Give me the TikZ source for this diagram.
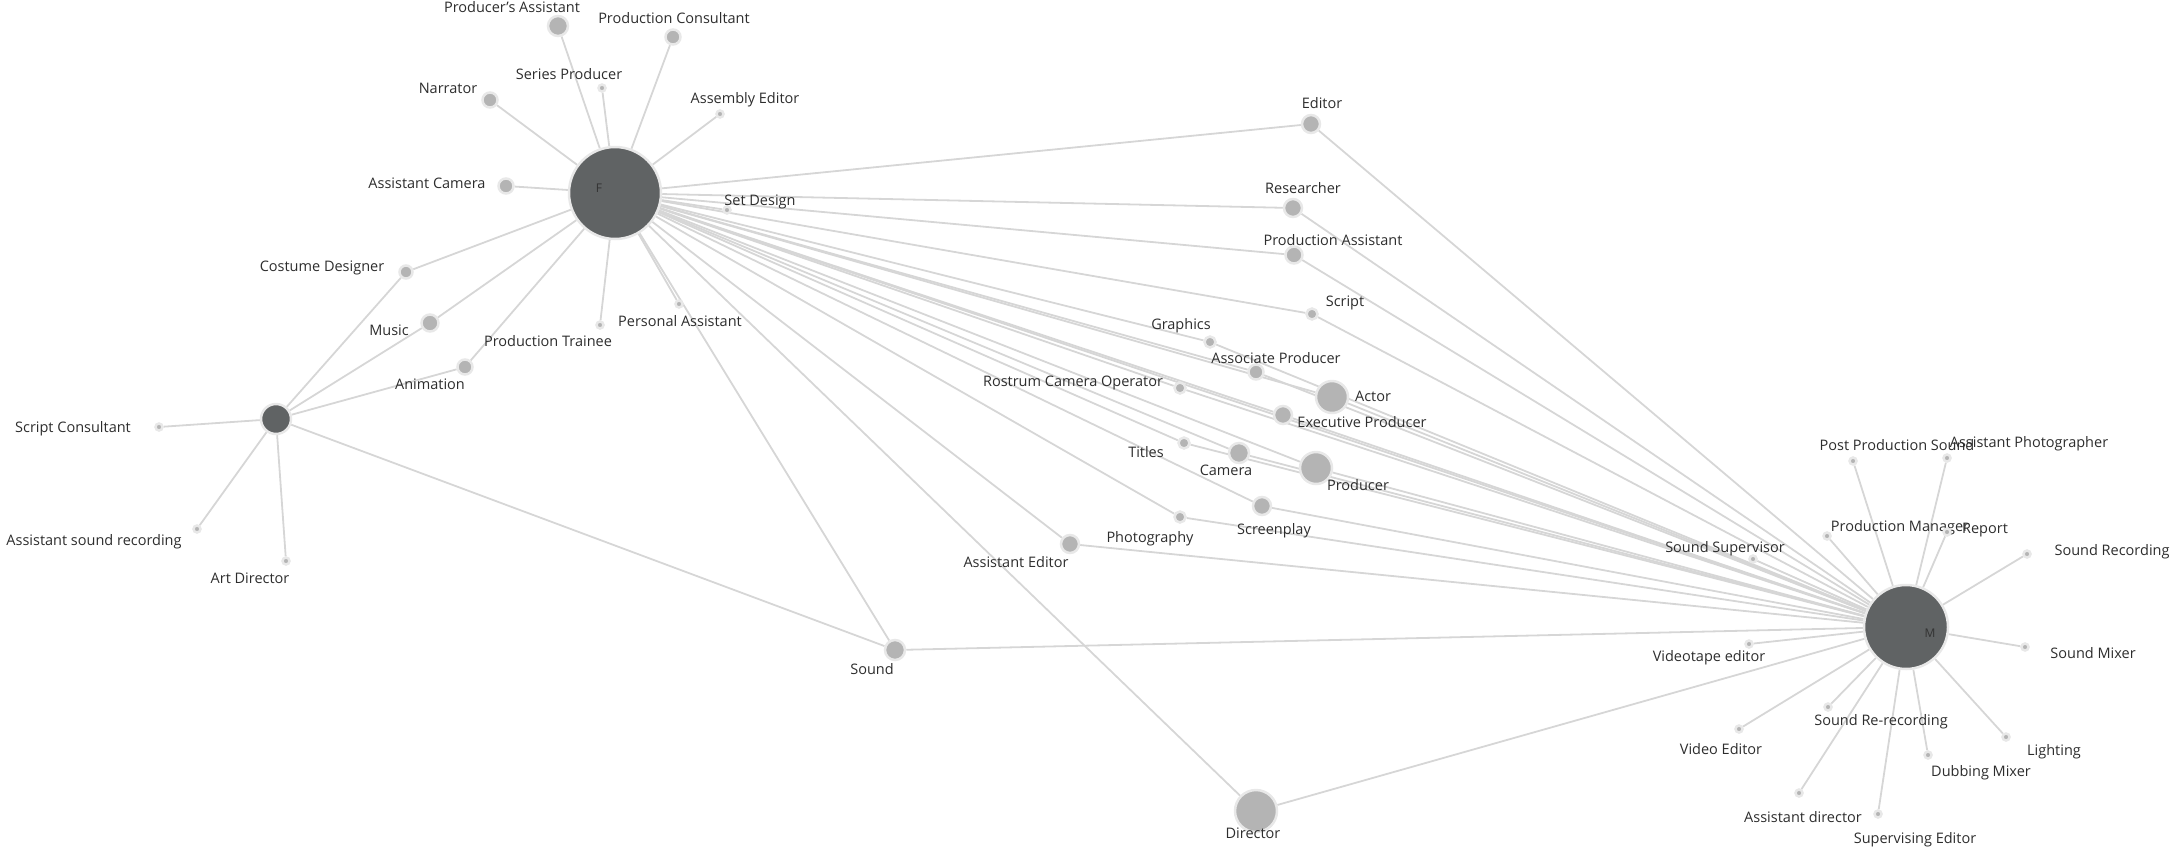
\documentclass[tikz,border=0pt]{standalone}
\usepackage{fontspec}
\setmainfont{Open Sans}
\usepackage{tikz}
\usetikzlibrary{positioning}
\usetikzlibrary{backgrounds}
\definecolor{hubgray}{RGB}{96,99,100}
\definecolor{rolegray}{RGB}{180,180,180}
\definecolor{halogray}{RGB}{232,232,232}
\definecolor{edgegray}{RGB}{214,214,214}
\definecolor{textgray}{RGB}{45,45,45}
\tikzstyle{hub}=[circle,fill=hubgray,draw=halogray,line width=2.5pt,inner sep=0pt]
\tikzstyle{role}=[circle,fill=rolegray,draw=halogray,line width=2.5pt,inner sep=0pt]
\tikzstyle{link} = [draw=edgegray,line width=1.8pt]
\tikzstyle{rolename} = [font=\fontsize{14.5}{16}\selectfont,text=textgray,inner sep=0pt]

\begin{document}
\begin{tikzpicture}[x=1pt,y=-1pt]
    \useasboundingbox (0,0) rectangle (2173,849);
    % First we draw the three hubs
    \node[hub,minimum size=92pt] (F) at (615,193) {};
    \node[font=\fontsize{12}{14}\selectfont,text=black!80] (lF) at (599,188) {F};
    \node[hub,minimum size=30pt] (L) at (276,419) {};
    \node[hub,minimum size=84pt] (M) at (1906,627) {};
    \node[font=\fontsize{12}{14}\selectfont,text=black!80] (lM) at (1930,633) {M};

    % Then the roles with their names
    \foreach \pos/\name/\sz/\lpos/\txt in {
        {(558,26)/prodasst/20/(512,7)/Producer's Assistant},
        {(673,37)/prodcons/15/(674,18)/Production Consultant},
        {(602,88)/seriesprod/7/(569,74)/Series Producer},
        {(490,100)/narrator/15/(448,88)/Narrator},
        {(720,114)/assembly/7/(745,100)/Assembly Editor},
        {(506,186)/asstcam/15/(427,183)/Assistant Camera},
        {(727,210)/setdesign/7/(760,202)/Set Design},
        {(406,272)/costume/13/(322,268)/Costume Designer},
        {(430,323)/music/17/(389,330)/Music},
        {(679,304)/persasst/7/(680,321)/Personal Assistant},
        {(600,325)/trainee/7/(548,341)/Production Trainee},
        {(465,367)/animation/15/(430,384)/Animation},
        {(159,427)/scriptcons/7/(73,429)/Script Consultant},
        {(197,529)/asstsound/7/(94,542)/Assistant sound recording},
        {(286,561)/artdir/7/(250,578)/Art Director},
        {(1311,124)/editor/18/(1322,103)/Editor},
        {(1293,208)/researcher/18/(1303,188)/Researcher},
        {(1294,255)/prodasstb/17/(1333,240)/Production Assistant},
        {(1312,314)/script/11/(1345,303)/Script},
        {(1210,342)/graphics/11/(1181,326)/Graphics},
        {(1256,372)/assocprod/15/(1276,358)/Associate Producer},
        {(1332,397)/actor/32/(1373,396)/Actor},
        {(1180,388)/rostrum/11/(1073,383)/Rostrum Camera Operator},
        {(1283,415)/execprod/18/(1362,422)/Executive Producer},
        {(1184,443)/titles/11/(1146,452)/Titles},
        {(1239,453)/camera/20/(1226,470)/Camera},
        {(1316,468)/producer/32/(1358,485)/Producer},
        {(1262,506)/screenplay/18/(1274,531)/Screenplay},
        {(1180,517)/photography/11/(1150,539)/Photography},
        {(1070,544)/asstedit/18/(1016,562)/Assistant Editor},
        {(895,650)/sound/20/(872,669)/Sound},
        {(1256,811)/director/42/(1253,833)/Director},
        {(1853,461)/postsound/7/(1897,445)/Post Production Sound},
        {(1947,458)/asstphoto/7/(2029,444)/Assistant Photographer},
        {(1827,536)/prodman/7/(1900,528)/Production Manager},
        {(1947,532)/report/7/(1985,530)/Report},
        {(1753,559)/soundsup/7/(1725,549)/Sound Supervisor},
        {(2027,554)/soundrec/7/(2112,552)/Sound Recording},
        {(2025,647)/soundmix/7/(2093,653)/Sound Mixer},
        {(1749,644)/videotape/7/(1709,658)/Videotape editor},
        {(1828,707)/rerec/7/(1881,722)/Sound Re-recording},
        {(1739,729)/videoedit/7/(1721,749)/Video Editor},
        {(2006,737)/lighting/7/(2054,752)/Lighting},
        {(1928,755)/dubbing/7/(1981,773)/Dubbing Mixer},
        {(1799,793)/asstdir/7/(1803,817)/Assistant director},
        {(1878,814)/supedit/7/(1915,840)/Supervising Editor}}
    {
        \node[role,minimum size=\sz pt] (\name) at \pos {};
        \node[rolename] (l\name) at \lpos {\txt};
    }

    % Connect the roles to the hubs, behind everything
    \begin{pgfonlayer}{background}
    \foreach \dest in {prodasst, prodcons, seriesprod, narrator, assembly, asstcam, setdesign,
                       costume, music, persasst, trainee, animation, editor, researcher,
                       prodasstb, script, graphics, assocprod, actor, rostrum, execprod,
                       titles, camera, producer, screenplay, photography, asstedit,
                       sound, director, M}
        \draw[link] (F) -- (\dest);
    \foreach \dest in {scriptcons, asstsound, artdir, costume, music, animation, sound}
        \draw[link] (L) -- (\dest);
    \foreach \source in {editor, researcher, prodasstb, script, graphics, assocprod, actor,
                         rostrum, execprod, titles, camera, producer, screenplay,
                         photography, asstedit, sound, director, postsound, asstphoto,
                         prodman, report, soundsup, soundrec, soundmix, videotape, rerec,
                         videoedit, lighting, dubbing, asstdir, supedit}
        \draw[link] (\source) -- (M);
    \end{pgfonlayer}
\end{tikzpicture}
\end{document}
